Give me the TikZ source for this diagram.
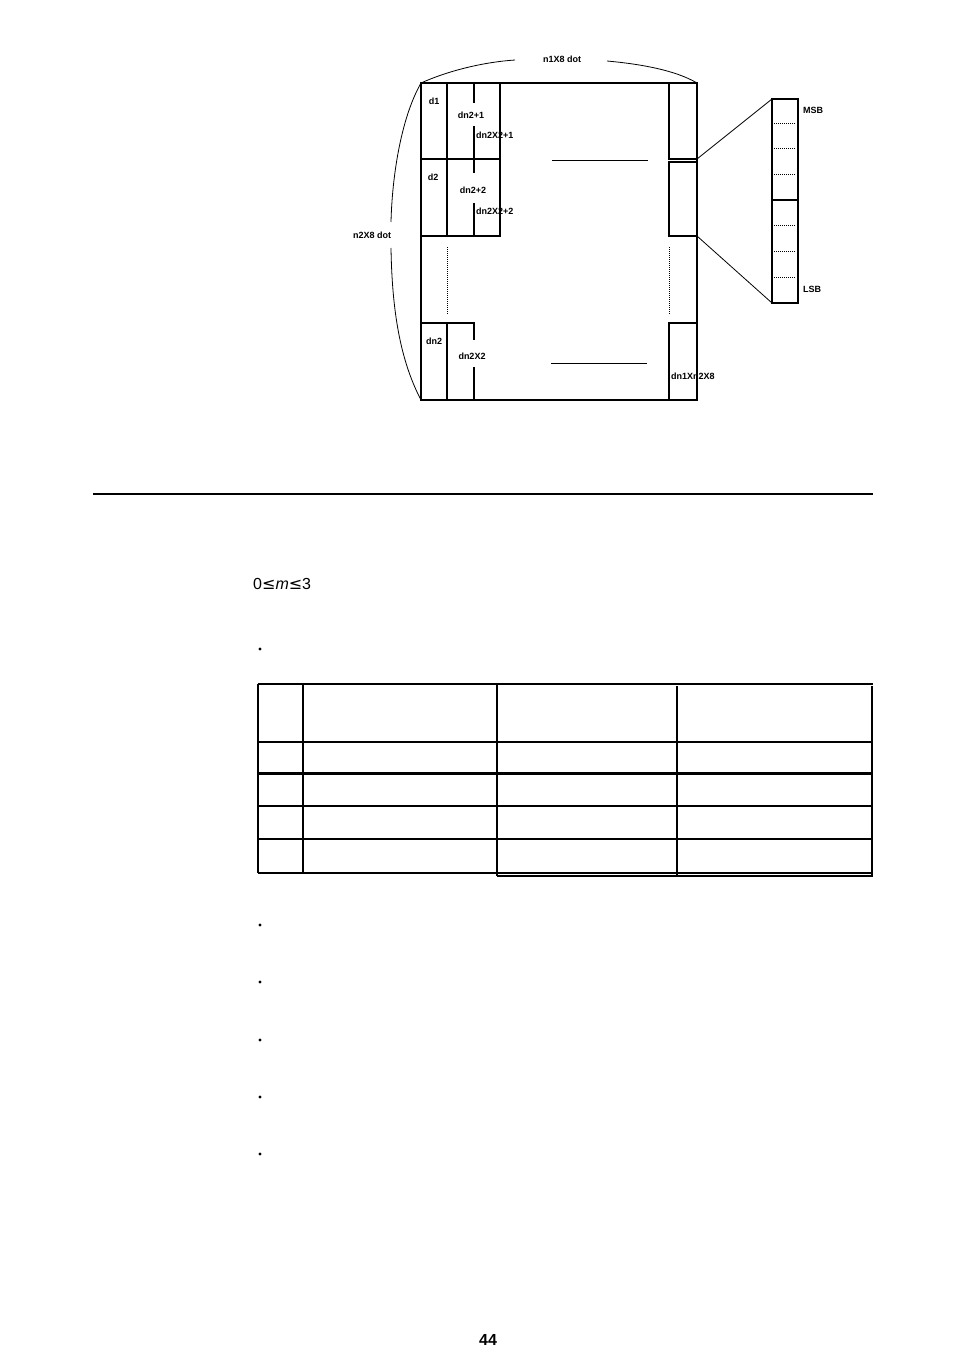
\documentclass[tikz,border=0pt]{standalone}
\usepackage{fontspec}
\setmainfont{Liberation Sans}
\newfontfamily\dv{DejaVu Sans}
\begin{document}
\begin{tikzpicture}[x=1pt,y=-1pt,
  lbl/.style={font=\fontsize{9}{10}\selectfont\bfseries,inner sep=0pt},
  ln/.style={line width=1.2pt},
  thin/.style={line width=0.8pt},
  dots/.style={line width=0.8pt,dash pattern=on 1pt off 1pt},
  tab/.style={line width=1.5pt}]
\useasboundingbox (0,0) rectangle (954,1371);
% main rectangle
\draw[ln] (421,83) rectangle (697,400);
% top blocks
\draw[ln] (447,83) -- (447,236);
\draw[ln] (421,159) -- (500,159);
\draw[ln] (421,236) -- (500,236) -- (500,83);
\draw[ln] (474,83) -- (474,103) (474,126) -- (474,173) (474,203) -- (474,236);
% right column
\draw[ln] (669,83) -- (669,159) -- (697,159);
\draw[ln] (697,162) -- (669,162) -- (669,236) -- (697,236);
\draw[dots] (447,247) -- (447,315);
\draw[dots] (669,247) -- (669,315);
% bottom blocks
\draw[ln] (421,323) -- (474,323) -- (474,340) (474,367) -- (474,400);
\draw[ln] (447,323) -- (447,400);
\draw[ln] (697,323) -- (669,323) -- (669,400);
\draw[thin] (552,160) -- (648,160);
\draw[thin] (551,363) -- (647,363);
% byte box
\draw[ln] (772,99) rectangle (798,303);
\draw[ln] (772,200) -- (798,200);
\foreach \y in {123,148,174,225,251,277} \draw[dots] (774,\y) -- (796,\y);
\coordinate (c1) at (697,159); \coordinate (c2) at (697,236);
\draw[thin] (c1) -- (772,99);
\draw[thin] (c2) -- (772,303);
% arcs
\draw[thin] (421,83) .. controls (450,70) and (485,62) .. (515,60);
\draw[thin] (607,61) .. controls (640,64) and (675,70) .. (697,83);
\draw[thin] (421,83) .. controls (400,120) and (392,180) .. (391,222);
\draw[thin] (391,248) .. controls (392,310) and (400,360) .. (421,400);
% labels
\node[lbl] (t1) at (562,59) {n1X8 dot};
\node[lbl] (t2) at (372,235) {n2X8 dot};
\node[lbl] at (434,101) {d1};
\node[lbl] at (471,115) {dn2+1};
\node[lbl,anchor=west] at (476,135) {dn2X2+1};
\node[lbl] at (433,177) {d2};
\node[lbl] at (473,190) {dn2+2};
\node[lbl,anchor=west] at (476,211) {dn2X2+2};
\node[lbl] at (434,341) {dn2};
\node[lbl] at (472,356) {dn2X2};
\node[lbl,anchor=west] at (671,376) {dn1Xn2X8};
\node[lbl,anchor=west] at (803,110) {MSB};
\node[lbl,anchor=west] at (803,289) {LSB};
% rule
\draw[line width=2.5pt] (93,494) -- (873,494);
\node[anchor=west,inner sep=0pt,font=\fontsize{16}{18}\selectfont] at (253,584) {0{\dv≤}\textit{m}{\dv≤}3};
% bullets
\foreach \y in {649,925,982,1040,1097,1154} \fill (260,\y) circle (1.7);
% table
\draw[tab] (258,684) -- (873,684);
\draw[tab] (258,742) -- (873,742);
\draw[line width=3pt] (258,773) -- (873,773);
\draw[tab] (258,806) -- (873,806);
\draw[tab] (258,839) -- (873,839);
\draw[tab] (258,873) -- (873,873);
\draw[tab] (497,876) -- (873,876);
\draw[tab] (258,684) -- (258,873);
\draw[tab] (303,684) -- (303,873);
\draw[line width=2pt] (497,684) -- (497,876);
\draw[tab] (677,686) -- (677,876);
\draw[tab] (872,686) -- (872,876);
\node[font=\fontsize{16}{18}\selectfont\bfseries] (pg) at (488,1340) {44};
\end{tikzpicture}
\end{document}
